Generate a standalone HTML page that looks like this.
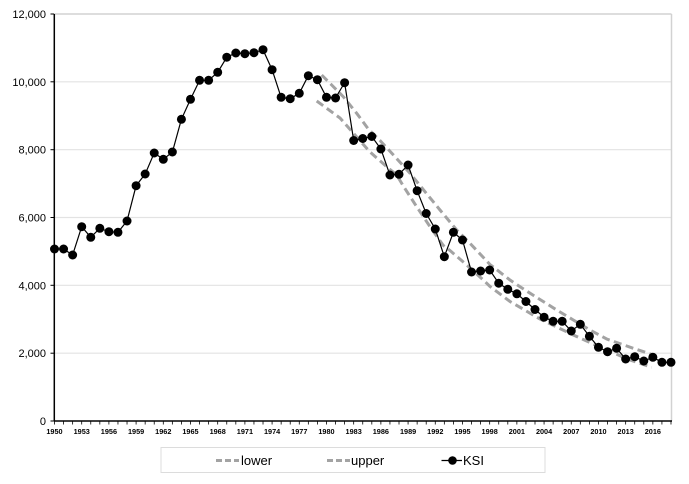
<!DOCTYPE html>
<html><head><meta charset="utf-8"><style>
html,body{margin:0;padding:0;background:#fff;}
svg{display:block;}
text{font-family:"Liberation Sans",Arial,sans-serif;}
</style></head><body>
<svg width="689" height="484" viewBox="0 0 689 484" xmlns="http://www.w3.org/2000/svg">
<rect x="0" y="0" width="689" height="484" fill="#fff"/>
<!-- gridlines -->
<g stroke="#e3e3e3" stroke-width="1.2">
<line x1="54" y1="353.2" x2="671" y2="353.2"/>
<line x1="54" y1="285.3" x2="671" y2="285.3"/>
<line x1="54" y1="217.5" x2="671" y2="217.5"/>
<line x1="54" y1="149.7" x2="671" y2="149.7"/>
<line x1="54" y1="81.8" x2="671" y2="81.8"/>
</g>
<line x1="54" y1="14" x2="671.5" y2="14" stroke="#d2d2d2" stroke-width="1.5"/>
<line x1="671.5" y1="14" x2="671.5" y2="421" stroke="#d2d2d2" stroke-width="1.5"/>
<!-- y ticks & labels -->
<g stroke="#000" stroke-width="1">
<line x1="50.5" y1="421" x2="54" y2="421"/>
<line x1="50.5" y1="353.2" x2="54" y2="353.2"/>
<line x1="50.5" y1="285.3" x2="54" y2="285.3"/>
<line x1="50.5" y1="217.5" x2="54" y2="217.5"/>
<line x1="50.5" y1="149.7" x2="54" y2="149.7"/>
<line x1="50.5" y1="81.8" x2="54" y2="81.8"/>
<line x1="50.5" y1="14" x2="54" y2="14"/>
</g>
<g font-size="11" text-anchor="end" fill="#000">
<text x="46" y="425">0</text>
<text x="46" y="357.2">2,000</text>
<text x="46" y="289.3">4,000</text>
<text x="46" y="221.5">6,000</text>
<text x="46" y="153.7">8,000</text>
<text x="46" y="85.8">10,000</text>
<text x="46" y="18">12,000</text>
</g>
<!-- x ticks -->
<g id="xticks" stroke="#000" stroke-width="0.8"></g>
<g id="xlabels" font-size="7.3" font-weight="bold" text-anchor="middle" fill="#000"></g>
<!-- axes -->
<line x1="54.3" y1="14" x2="54.3" y2="421.5" stroke="#000" stroke-width="1.5"/>
<line x1="54" y1="421" x2="672" y2="421" stroke="#000" stroke-width="1.5"/>
<!-- band -->
<g fill="none" stroke="#a3a3a3" stroke-width="3" stroke-dasharray="8 4.5">
<polyline points="321.7,75 331.7,85 343.3,96.7 356.7,113.3 368.3,129 380,140.5 395,156.7 410,173.3 425,191.7 440,210 456.7,230 470,243.3 490,264.5 510,280 525,290 540,299.5 556.7,310 573.3,320 590,330 606.7,339 633.3,348.3 655.7,355.7"/>
<polyline points="316.7,101 340,118 355,135 370,152 386.7,166.7 396.7,175 403.3,186 416.7,206.7 430,226.7 443.3,245.5 450,250.5 466.7,265 483.3,280 490,286.5 510,301.5 540,319 573.3,335 606.7,350 630,360 651.7,367.3"/>
</g>
<g id="ksi"></g>
<!-- legend -->
<rect x="161" y="447.5" width="384" height="25" fill="#fff" stroke="#dcdcdc" stroke-width="1"/>
<line x1="216" y1="460.5" x2="239" y2="460.5" stroke="#a3a3a3" stroke-width="3" stroke-dasharray="6 3"/>
<text x="241" y="465" font-size="13" fill="#000">lower</text>
<line x1="327" y1="460.5" x2="350" y2="460.5" stroke="#a3a3a3" stroke-width="3" stroke-dasharray="6 3"/>
<text x="351" y="465" font-size="13" fill="#000">upper</text>
<line x1="441.5" y1="460.5" x2="462" y2="460.5" stroke="#000" stroke-width="1.3"/>
<circle cx="452.5" cy="460.5" r="4.3" fill="#000"/>
<text x="463" y="465" font-size="13" fill="#000">KSI</text>
</svg>
<script>
(function(){
var ns="http://www.w3.org/2000/svg";
function X(y){return 54.5+(y-1950)*9.066;}
var t=document.getElementById("xticks"),l=document.getElementById("xlabels");
for(var y=1950;y<=2018;y++){
 var ln=document.createElementNS(ns,"line");
 ln.setAttribute("x1",X(y));ln.setAttribute("x2",X(y));
 ln.setAttribute("y1",421);ln.setAttribute("y2",424.5);t.appendChild(ln);
 if((y-1950)%3==0 && y<=2016){
  var tx=document.createElementNS(ns,"text");
  tx.setAttribute("x",X(y));tx.setAttribute("y",434);tx.textContent=y;l.appendChild(tx);
 }
}
var ys=[249,249,255,226.7,237.3,228.3,231.7,232.3,221,185.7,174,153,159.3,152,119.3,99.3,80.3,80.3,72.3,57.2,53,53.7,52.7,49.7,69.7,97.3,98.7,93.3,75.7,79.7,97.3,98,82.7,140.5,138.5,136.5,149,175,174.3,165,190.7,213.5,229,256.7,232.3,240,272,271,270,283.2,289.3,293.8,301.5,309.5,317.2,321.3,321.3,331,324.3,336.3,347.3,351.7,348.3,359,356.7,361,357.3,362.3,362.3];
var g=document.getElementById("ksi"),pts=[];
for(var i=0;i<ys.length;i++){pts.push(X(1950+i).toFixed(1)+","+ys[i]);}
var pl=document.createElementNS(ns,"polyline");
pl.setAttribute("points",pts.join(" "));pl.setAttribute("fill","none");
pl.setAttribute("stroke","#000");pl.setAttribute("stroke-width","1.2");g.appendChild(pl);
for(var i=0;i<ys.length;i++){
 var c=document.createElementNS(ns,"circle");
 c.setAttribute("cx",X(1950+i));c.setAttribute("cy",ys[i]);c.setAttribute("r",4.5);c.setAttribute("fill","#000");g.appendChild(c);
}
})();
</script>
</body></html>
